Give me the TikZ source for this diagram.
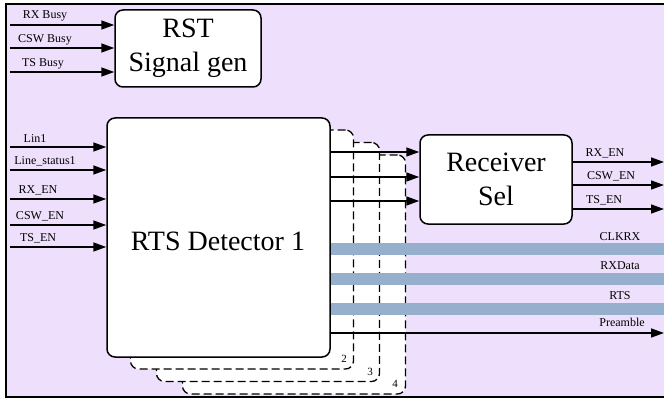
\documentclass[tikz,border=0pt]{standalone}
\usepackage{fontspec}
\newfontfamily\fbig{Liberation Serif}
\newfontfamily\fsmall{Liberation Serif}[Ligatures=TeX]
\usetikzlibrary{arrows.meta}
\definecolor{bgc}{RGB}{238,224,252}
\definecolor{barc}{RGB}{149,175,205}
\tikzset{
  x=1pt, y=-1pt,
  blk/.style={draw, line width=1.5pt, fill=white, rounded corners=8pt, align=center, inner sep=0pt, font=\fbig\fontsize{28}{34}\selectfont},
  dbox/.style={draw, line width=1.3pt, fill=white, rounded corners=8pt, dash pattern=on 8pt off 4pt, minimum width=223pt, minimum height=239pt, inner sep=0pt},
  sig/.style={line width=1.5pt, -{Triangle[length=13pt,width=9pt]}},
  bar/.style={line width=12pt, barc},
  lbl/.style={font=\fsmall\fontsize{12}{13}\selectfont, inner sep=0pt},
  num/.style={font=\fsmall\fontsize{11}{12}\selectfont, inner sep=0pt}
}
\begin{document}
\begin{tikzpicture}
\useasboundingbox (0,0) rectangle (664,401);
\fill[bgc] (6,4) rectangle (664,397);
\draw[line width=2pt] (664,4) -- (6,4) -- (6,397) -- (664,397);

% RST Signal gen
\node[blk, minimum width=146pt, minimum height=77pt] (rst) at (188,48.5) {RST\\Signal gen};
\coordinate (a1) at (10,25);
\coordinate (a2) at (10,48);
\coordinate (a3) at (10,72);
\draw[sig] (a1) -- (a1 -| rst.west);
\draw[sig] (a2) -- (a2 -| rst.west);
\draw[sig] (a3) -- (a3 -| rst.west);
\node[lbl] (la1) at (45,16) {RX Busy};
\node[lbl] (la2) at (45,40) {CSW Busy};
\node[lbl] (la3) at (43,64) {TS Busy};

% detector stack
\node[dbox] (det4) at (294,274.5) {};
\node[dbox] (det3) at (268,262) {};
\node[dbox] (det2) at (242,249.5) {};
\node[num] (n4) at (395,384) {4};
\node[num] (n3) at (370,372) {3};
\node[num] (n2) at (344,359) {2};
\node[blk, minimum width=223pt, minimum height=239pt] (det1) at (218.5,237.5) {};
\node[font=\fbig\fontsize{28}{34}\selectfont] (dt) at (218,241) {RTS Detector 1};

% inputs
\coordinate (b1) at (10,147);
\coordinate (b2) at (10,170);
\coordinate (b3) at (10,199);
\coordinate (b4) at (10,225);
\coordinate (b5) at (10,247);
\foreach \c in {b1,b2,b3,b4,b5}{\draw[sig] (\c) -- (\c -| det1.west);}
\node[lbl] (lb1) at (35,139) {Lin1};
\node[lbl] (lb2) at (45,161) {Line\_status1};
\node[lbl] (lb3) at (38,190) {RX\_EN};
\node[lbl] (lb4) at (40,216) {CSW\_EN};
\node[lbl] (lb5) at (38,238) {TS\_EN};

% Receiver Sel
\node[blk, minimum width=152pt, minimum height=89pt] (rs) at (496,179.5) {Receiver\\Sel};
\coordinate (c1) at (330,152);
\coordinate (c2) at (330,177);
\coordinate (c3) at (330,201);
\foreach \c in {c1,c2,c3}{\draw[sig] (\c -| det1.east) -- (\c -| rs.west);}

% Receiver outputs
\coordinate (d1) at (664,162);
\coordinate (d2) at (664,185);
\coordinate (d3) at (664,209);
\foreach \c in {d1,d2,d3}{\draw[sig] (\c -| rs.east) -- (\c);}
\node[lbl] (ld1) at (605,153) {RX\_EN};
\node[lbl] (ld2) at (611,176) {CSW\_EN};
\node[lbl] (ld3) at (604,200) {TS\_EN};

% bars
\coordinate (e1) at (664,249);
\coordinate (e2) at (664,278.5);
\coordinate (e3) at (664,308.5);
\coordinate (e4) at (664,333);
\foreach \c in {e1,e2,e3}{\draw[bar] (\c -| det1.east) -- (\c);}
\draw[sig] (e4 -| det1.east) -- (e4);
\node[lbl] (le1) at (620,237) {CLKRX};
\node[lbl] (le2) at (620,266) {RXData};
\node[lbl] (le3) at (620,296) {RTS};
\node[lbl] (le4) at (622,322) {Preamble};
\end{tikzpicture}
\end{document}
